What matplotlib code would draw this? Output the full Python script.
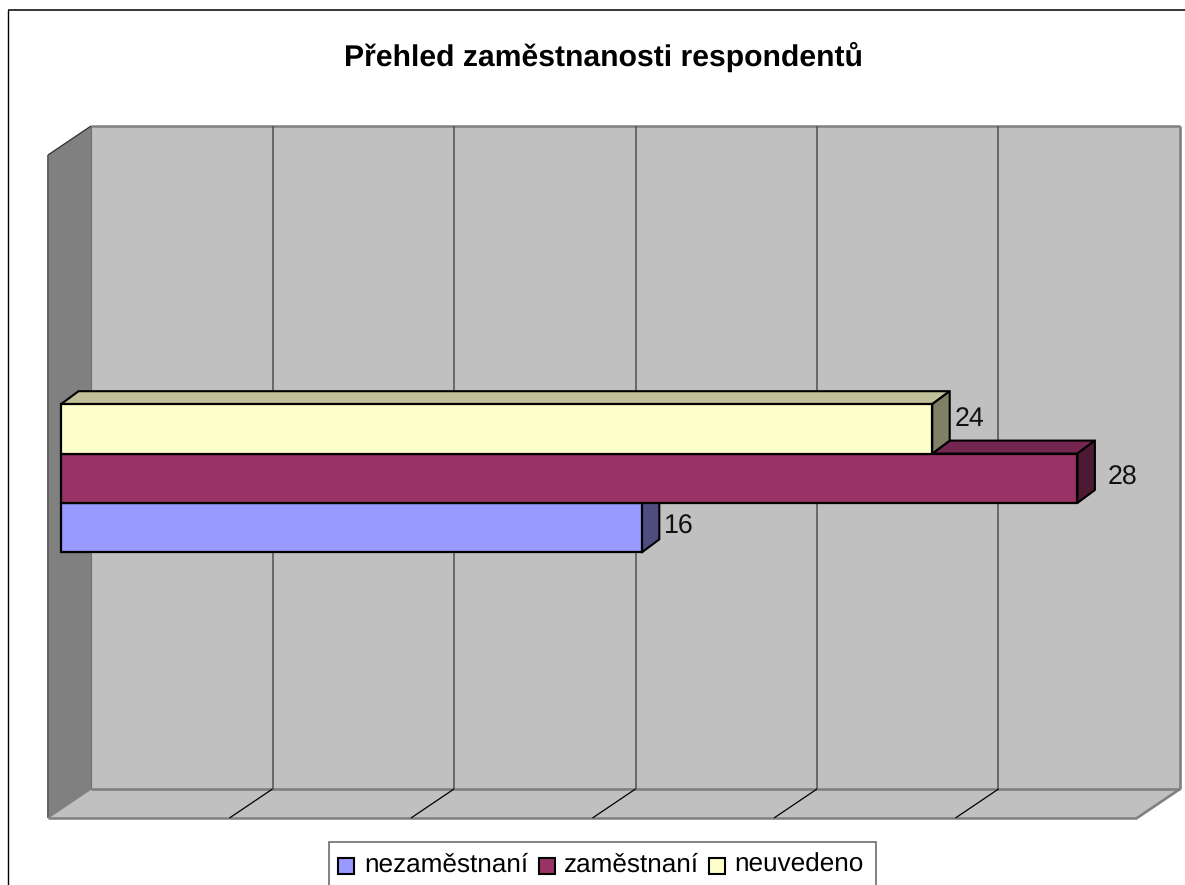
import matplotlib
matplotlib.use("Agg")
import matplotlib.pyplot as plt
from matplotlib.patches import Polygon, Rectangle
from matplotlib.transforms import Affine2D

plt.rcParams['font.family'] = ['Liberation Sans', 'DejaVu Sans']
plt.rcParams['text.hinting'] = 'no_hinting'

title = "Přehled zaměstnanosti respondentů"
series = ["nezaměstnaní", "zaměstnaní", "neuvedeno"]
values = [16, 28, 24]
face = ["#9999FF", "#993366", "#FFFFCC"]
top = ["#73739F", "#732650", "#BFBF99"]
side = ["#4D4D80", "#4D1A33", "#808066"]
ticks = [5, 10, 15, 20, 25]

W, H = 1185, 885
fig = plt.figure(figsize=(W / 100, H / 100), dpi=100, facecolor="white")
ax = fig.add_axes([0, 0, 1, 1])
ax.axis("off")

# px scale of the value axis and bar layout
U = 36.3
X0 = 61.0
BAR = 49.4
YC = 478.3
ax.set_xlim(-X0 / U, (W - X0) / U)
ax.set_ylim((H - YC) / -BAR, YC / BAR)

px = Affine2D().scale(1, -1).translate(0, H)

def poly(pts, **kw):
    ax.add_patch(Polygon(pts, closed=True, transform=px, clip_on=False, **kw))

def line(xs, ys, c, lw, z=2):
    ax.plot(xs, ys, color=c, lw=lw, transform=px, clip_on=False, zorder=z, solid_capstyle="butt")

# chart frame
line([8, 8], [10, 885], "#000000", 1.0)
line([8, 1185], [10, 10], "#000000", 1.1)

# walls
BX, FX = 91, 48
BT, BB, FT, FB = 126, 789, 155, 818
BR = BX + 30 * U
FR = FX + 30 * U
poly([(BX, BT), (BR, BT), (BR, BB), (BX, BB)], fc="#C0C0C0", ec="none", zorder=1)
poly([(FX, FT), (BX, BT), (BX, BB), (FX, FB)], fc="#808080", ec="none", zorder=1)
poly([(FX, FB), (BX, BB), (BR, BB), (FR, FB)], fc="#C0C0C0", ec="none", zorder=1)
line([BX, BR], [BT, BT], "#808080", 1.8)
line([BR, BR], [BT, BB], "#808080", 1.9)
line([BX, BX], [BT, BB], "#707070", 0.8)
line([BX, BR], [BB, BB], "#808080", 1.9)
line([FX, FR], [FB, FB], "#808080", 1.8)
line([FR, BR], [FB, BB], "#808080", 1.9)
line([FX, FX], [FT, FB], "#606060", 1.4)
line([FX, BX], [FT, BT], "#303030", 0.9)
line([FX, BX], [FB, BB], "#808080", 1.0)

for t in ticks:
    line([BX + t * U] * 2, [BT, BB], "#505050", 1.1)
    line([BX + t * U, FX + t * U], [BB, FB], "#000000", 0.9)

# bars
DX, DY = 17.5, 13.0
ypos = [-1, 0, 1]
for y, v, f, t, s in zip(ypos, values, face, top, side):
    xr = X0 + v * U
    yt = YC - (y + 0.5) * BAR
    yb = YC - (y - 0.5) * BAR
    if y == 1 or v > values[ypos.index(y + 1)]:
        xl = X0 if y == 1 else X0 + values[ypos.index(y + 1)] * U
        poly([(xl, yt), (xl + DX, yt - DY), (xr + DX, yt - DY), (xr, yt)],
             fc=t, ec="black", lw=1.5, joinstyle="round", zorder=3)
    poly([(xr, yt), (xr + DX, yt - DY), (xr + DX, yb - DY), (xr, yb)],
         fc=s, ec="black", lw=1.5, joinstyle="round", zorder=3)

for y, v, f in zip(ypos, values, face):
    ax.barh(y, v, height=1.0, left=0, color=f, edgecolor="black", lw=1.6, zorder=4)

# data labels
label_dx = [16, 21.5, 16]
label_dy = [1, 0.6, 7.4]
for y, v, dx, dy in zip(ypos, values, label_dx, label_dy):
    ax.annotate(str(v), xy=(v, y), xytext=(dx, dy), textcoords="offset points",
                fontsize=19.3, color="#111111", va="center", ha="left", zorder=6)

# title
ax.text(603.5, 57, title, transform=px, fontsize=21.7, fontweight="bold",
        ha="center", va="center", color="black")

# legend
ax.add_patch(Rectangle((329, 842), 547, 50, transform=px, fc="white", ec="#606060",
                       lw=1.1, clip_on=True, zorder=5))
items = [(338, 364), (539, 564), (709, 734.5)]
for (bx, tx), name, f in zip(items, series, face):
    ax.add_patch(Rectangle((bx, 857.5), 16, 16, transform=px, fc=f, ec="black", lw=1.5, zorder=6))
    ax.text(tx, 865, name, transform=px, fontsize=18.8, va="center", ha="left", color="black", zorder=6)

fig.savefig("out.png", dpi=100)
